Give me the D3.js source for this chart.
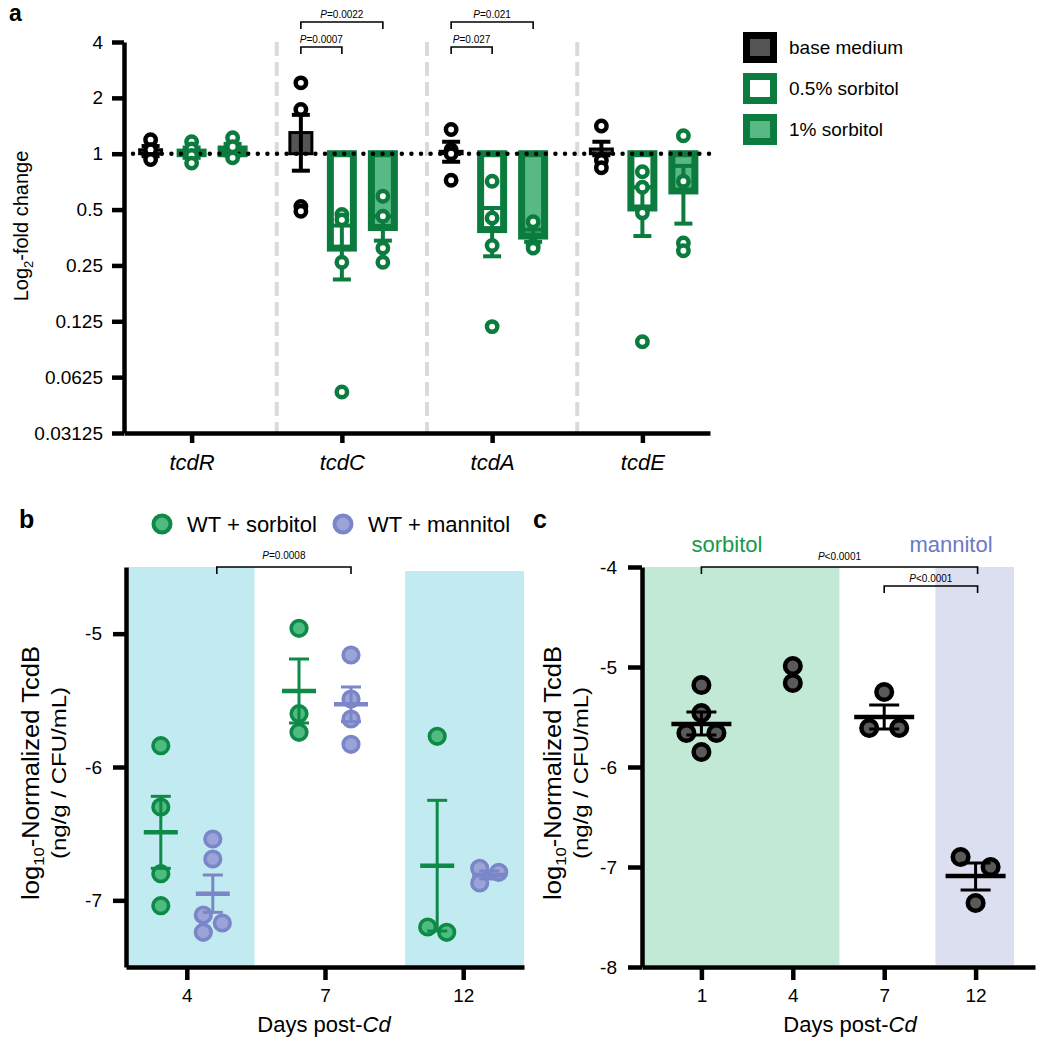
<!DOCTYPE html>
<html><head><meta charset="utf-8">
<script src="https://cdn.jsdelivr.net/npm/d3@7"></script>
<style>
body{margin:0;background:#fff;}
svg text{font-family:"Liberation Sans",Arial,Helvetica,sans-serif;fill:#000;}
</style></head><body>
<svg id="chart" width="1050" height="1044"></svg>
<script>
// ---------------- Panel a data ----------------
const genes = ["tcdR","tcdC","tcdA","tcdE"];
const media = ["base medium","0.5% sorbitol","1% sorbitol"];
const foldTicks = [4,2,1,0.5,0.25,0.125,0.0625,0.03125];
const foldTickLabels = ["4","2","1","0.5","0.25","0.125","0.0625","0.03125"];

const pointsTcdR = [[1.19,1.05,0.93],[1.16,1.06,0.98,0.89],[1.22,1.09,0.95]];
const pointsTcdC = [[2.41,1.73,0.52,0.49],[0.47,0.44,0.26,0.052],[0.59,0.46,0.31,0.26]];
const pointsTcdA = [[1.35,1.05,1.0,0.72],[0.71,0.45,0.32,0.117],[0.43,0.32,0.31]];
const pointsTcdE = [[1.41,0.92,0.84],[0.80,0.66,0.48,0.097],[1.25,0.71,0.33,0.30]];

const meanTcdR = [1.05,1.02,1.06];
const meanTcdC = [1.30,0.31,0.40];
const meanTcdA = [1.03,0.39,0.36];
const meanTcdE = [1.06,0.51,0.63];

const errTcdR = [[0.97,1.10],[0.95,1.08],[0.98,1.13]];
const errTcdC = [[0.81,1.62],[0.21,0.41],[0.34,0.46]];
const errTcdA = [[0.905,1.16],[0.28,0.51],[0.335,0.39]];
const errTcdE = [[0.98,1.16],[0.36,0.66],[0.42,0.86]];

const pGenesA = ["tcdC","tcdC","tcdA","tcdA"];
const pTargetsA = ["0.5% sorbitol","1% sorbitol","0.5% sorbitol","1% sorbitol"];
const pValuesA = ["=0.0007","=0.0022","=0.027","=0.021"];

// ---------------- Panel b data ----------------
const daysB = ["4","7","12"];
const sugarsB = ["WT + sorbitol","WT + mannitol"];
const sorbitolB = [[-5.84,-6.30,-6.80,-7.04],[-4.96,-5.60,-5.74],[-5.77,-7.20,-7.24]];
const mannitolB = [[-6.54,-6.69,-7.11,-7.17,-7.24],[-5.16,-5.49,-5.64,-5.83],[-6.76,-6.79,-6.87]];
const sorbitolBMean = [-6.49,-5.43,-6.74];
const mannitolBMean = [-6.95,-5.53,-6.81];
const sorbitolBErr = [[-6.76,-6.22],[-5.67,-5.19],[-7.23,-6.25]];
const mannitolBErr = [[-7.09,-6.81],[-5.66,-5.40],[-6.84,-6.78]];
const ticksB = [-5,-6,-7];
const tickLabelsB = ["-5","-6","-7"];
const pValueB = "=0.0008";

// ---------------- Panel c data ----------------
const daysC = ["1","4","7","12"];
const toxinC = [[-5.18,-5.46,-5.66,-5.66,-5.85],[-4.99,-5.16],[-5.25,-5.61,-5.61],[-6.90,-7.00,-7.36]];
const toxinCMean = [-5.57,null,-5.50,-7.09];
const toxinCErr = [[-5.68,-5.45],null,[-5.62,-5.38],[-7.23,-6.96]];
const ticksC = [-4,-5,-6,-7,-8];
const tickLabelsC = ["-4","-5","-6","-7","-8"];
const pFromC = ["1","7"];
const pValuesC = ["<0.0001","<0.0001"];

// ---------------- styles ----------------
const GREEN = "#0b7b3e", GREEN_LIGHT = "#58b985";
const FONT = '"Liberation Sans",Arial,Helvetica,sans-serif';
const svg = d3.select("#chart");

function styleAxis(g, fs, italic){
  g.select(".domain").attr("stroke","#000").attr("stroke-width",4.5);
  g.selectAll(".tick line").attr("stroke","#000").attr("stroke-width",4.5);
  g.selectAll(".tick text").attr("font-size",fs).attr("font-family",FONT).attr("fill","#000")
    .attr("font-style", italic ? "italic" : null);
}
function bracket(g, x1, x2, y, tick, rest, ty){
  g.append("path").attr("d",`M${x1},${y+tick}V${y}H${x2}V${y+tick}`)
    .attr("fill","none").attr("stroke","#000").attr("stroke-width",1.6);
  const t = g.append("text").attr("x",(x1+x2)/2).attr("y",ty).attr("text-anchor","middle").attr("font-size",10);
  t.append("tspan").attr("font-style","italic").text("P");
  t.append("tspan").text(rest);
}
function dodge(values, y, thr, s){
  const idx = values.map((v,i)=>i).sort((a,b)=>values[b]-values[a]);
  const off = new Array(values.length).fill(0);
  let cluster = [idx[0]];
  const flush = () => { if (cluster.length>1) cluster.forEach((k,j)=> off[k] = (j%2===0?-1:1)*s/2); };
  for (let j=1;j<idx.length;j++){
    if (Math.abs(y(values[idx[j]])-y(values[idx[j-1]])) < thr) cluster.push(idx[j]);
    else { flush(); cluster=[idx[j]]; }
  }
  flush();
  return off;
}
function toxinLabel(g, x1, x2, cy){
  const yl = g.append("text").attr("transform",`translate(${x1},${cy}) rotate(-90)`).attr("text-anchor","middle")
    .attr("font-size",23).attr("textLength",254).attr("lengthAdjust","spacingAndGlyphs");
  yl.append("tspan").text("log");
  yl.append("tspan").attr("font-size",15).attr("dy",5).text("10");
  yl.append("tspan").attr("dy",-5).text("-Normalized TcdB");
  g.append("text").attr("transform",`translate(${x2},${cy}) rotate(-90)`).attr("text-anchor","middle")
    .attr("font-size",20).attr("textLength",172).attr("lengthAdjust","spacingAndGlyphs").text("(ng/g / CFU/mL)");
}

// =============== Panel a ===============
{
  const g = svg.append("g");
  const xA = d3.scalePoint().domain(genes).range([124,710]).padding(0.45);
  const offA = d3.scalePoint().domain(media).range([-41,41]);
  const yA = d3.scaleLog().base(2).domain([0.03125,4]).range([433,42]);
  const stepA = xA.step();
  const pointsA = [pointsTcdR,pointsTcdC,pointsTcdA,pointsTcdE];
  const meansA = [meanTcdR,meanTcdC,meanTcdA,meanTcdE];
  const errsA = [errTcdR,errTcdC,errTcdA,errTcdE];
  const barStroke = ["#000",GREEN,GREEN], barFill = ["#555","#fff",GREEN_LIGHT];
  const barSW = [3,7,7], barW = [25,30,30];

  genes.slice(0,-1).forEach(gn=>{
    const sx = xA(gn)+stepA*0.5+10;
    g.append("line").attr("x1",sx).attr("x2",sx).attr("y1",yA(4)).attr("y2",yA(0.03125))
      .attr("stroke","#dadada").attr("stroke-width",4).attr("stroke-dasharray","14 6");
  });

  genes.forEach((gn,gi)=>media.forEach((m,mi)=>{
    const cx = xA(gn)+offA(m);
    const y1 = yA(1), y2 = yA(meansA[gi][mi]);
    const w = barW[mi]-barSW[mi];
    g.append("rect").attr("x",cx-w/2).attr("y",Math.min(y1,y2)).attr("width",w)
      .attr("height",Math.max(0.5,Math.abs(y2-y1)))
      .attr("fill",barFill[mi]).attr("stroke",barStroke[mi]).attr("stroke-width",barSW[mi]);
  }));

  g.append("line").attr("x1",133).attr("x2",718).attr("y1",yA(1)).attr("y2",yA(1))
    .attr("stroke","#000").attr("stroke-width",4.5).attr("stroke-linecap","round")
    .attr("stroke-dasharray","0 9.6");

  genes.forEach((gn,gi)=>media.forEach((m,mi)=>{
    const cx = xA(gn)+offA(m);
    const [lo,hi] = errsA[gi][mi];
    const col = barStroke[mi];
    g.append("line").attr("x1",cx).attr("x2",cx).attr("y1",yA(lo)).attr("y2",yA(hi))
      .attr("stroke",col).attr("stroke-width",4);
    [lo,hi].forEach(v=>g.append("line").attr("x1",cx-9).attr("x2",cx+9).attr("y1",yA(v)).attr("y2",yA(v))
      .attr("stroke",col).attr("stroke-width",4));
  }));

  genes.forEach((gn,gi)=>media.forEach((m,mi)=>{
    const cx = xA(gn)+offA(m);
    g.selectAll(null).data(pointsA[gi][mi]).enter().append("circle")
      .attr("cx",cx).attr("cy",d=>yA(d)).attr("r",5.2)
      .attr("fill","#fff").attr("stroke",barStroke[mi]).attr("stroke-width",4.5);
  }));

  const ay = g.append("g").attr("transform","translate(124,0)")
    .call(d3.axisLeft(yA).tickValues(foldTicks).tickFormat((d,i)=>foldTickLabels[i]).tickSize(12).tickPadding(9).tickSizeOuter(0));
  styleAxis(ay,19,false);
  const ax = g.append("g").attr("transform","translate(0,433)")
    .call(d3.axisBottom(xA).tickSize(10).tickPadding(11).tickSizeOuter(0));
  styleAxis(ax,22,true);

  const yl = g.append("text").attr("transform","translate(28,226) rotate(-90)").attr("text-anchor","middle").attr("font-size",20);
  yl.append("tspan").text("Log");
  yl.append("tspan").attr("font-size",13).attr("dy",5).text("2");
  yl.append("tspan").attr("dy",-5).text("-fold change");

  pGenesA.forEach((gn,i)=>{
    const lvl = media.indexOf(pTargetsA[i]);
    const x1 = xA(gn)+offA(media[0]), x2 = xA(gn)+offA(pTargetsA[i]);
    const by = lvl===1 ? 47 : 22;
    bracket(g, x1, x2, by, 7, pValuesA[i], by-4);
  });

  media.forEach((m,mi)=>{
    const cy = 47.5 + mi*41;
    g.append("rect").attr("x",746.5).attr("y",cy-12).attr("width",27).attr("height",24)
      .attr("fill",barFill[mi]).attr("stroke",barStroke[mi]).attr("stroke-width",7);
    g.append("text").attr("x",789).attr("y",cy+6.5).attr("font-size",19).text(m);
  });

  g.append("text").attr("x",9).attr("y",21).attr("font-size",23).attr("font-weight","bold").text("a");
}

// =============== Panel b ===============
{
  const g = svg.append("g");
  const xB = d3.scalePoint().domain(daysB).range([126,524]).padding(0.44);
  const offB = d3.scalePoint().domain(sugarsB).range([-26,26]);
  const yB = d3.scaleLinear().domain([-7.5,-4.5]).range([967,567]);
  const stepB = xB.step();
  const COL = [{s:"#0d8a47",f:"#4fbb80"},{s:"#7b86c8",f:"#9ba4d8"}];
  const ptsB = [sorbitolB, mannitolB], meanB = [sorbitolBMean, mannitolBMean], errB = [sorbitolBErr, mannitolBErr];

  g.append("rect").attr("x",128).attr("y",yB(-4.5)).attr("width",xB("4")+0.49*stepB-128)
    .attr("height",yB(-7.5)-yB(-4.5)).attr("fill","#c1ebf0");
  const b2x = xB("12")-0.42*stepB;
  g.append("rect").attr("x",b2x).attr("y",yB(-4.5)+4).attr("width",524-b2x)
    .attr("height",yB(-7.5)-yB(-4.5)-4).attr("fill","#c1ebf0");

  daysB.forEach((d,di)=>sugarsB.forEach((s,si)=>{
    const vals = ptsB[si][di];
    const off = dodge(vals, yB, 16, 19);
    const cx = xB(d)+offB(s);
    g.selectAll(null).data(vals).enter().append("circle")
      .attr("cx",(v,i)=>cx+off[i]).attr("cy",v=>yB(v)).attr("r",7.8)
      .attr("fill",COL[si].f).attr("stroke",COL[si].s).attr("stroke-width",3.6);
  }));
  daysB.forEach((d,di)=>sugarsB.forEach((s,si)=>{
    const cx = xB(d)+offB(s), c = COL[si].s;
    const [lo,hi] = errB[si][di];
    g.append("line").attr("x1",cx).attr("x2",cx).attr("y1",yB(lo)).attr("y2",yB(hi)).attr("stroke",c).attr("stroke-width",3);
    [lo,hi].forEach(v=>g.append("line").attr("x1",cx-10).attr("x2",cx+10).attr("y1",yB(v)).attr("y2",yB(v)).attr("stroke",c).attr("stroke-width",3));
    const m = meanB[si][di];
    g.append("line").attr("x1",cx-17).attr("x2",cx+17).attr("y1",yB(m)).attr("y2",yB(m)).attr("stroke",c).attr("stroke-width",4.5);
  }));

  const ay = g.append("g").attr("transform","translate(126,0)")
    .call(d3.axisLeft(yB).tickValues(ticksB).tickFormat((d,i)=>tickLabelsB[i]).tickSize(13).tickPadding(11).tickSizeOuter(0));
  styleAxis(ay,19,false);
  const ax = g.append("g").attr("transform","translate(0,967)")
    .call(d3.axisBottom(xB).tickSize(13).tickPadding(9).tickSizeOuter(0));
  styleAxis(ax,19,false);

  const xl = g.append("text").attr("x",324).attr("y",1032).attr("text-anchor","middle").attr("font-size",22);
  xl.append("tspan").text("Days post-");
  xl.append("tspan").attr("font-style","italic").text("Cd");

  toxinLabel(g, 39, 66, 773);

  sugarsB.forEach((s,si)=>{
    const lx = si===0 ? 162 : 343;
    g.append("circle").attr("cx",lx).attr("cy",524).attr("r",8.5).attr("fill",COL[si].f).attr("stroke",COL[si].s).attr("stroke-width",4);
    g.append("text").attr("x",lx+25).attr("y",532).attr("font-size",22).text(s);
  });

  const bx1 = xB("4")+offB(sugarsB[1])+4, bx2 = xB("7")+offB(sugarsB[1]);
  bracket(g, bx1, bx2, 567, 7, pValueB, 559);

  g.append("text").attr("x",19).attr("y",528).attr("font-size",25).attr("font-weight","bold").text("b");
}

// =============== Panel c ===============
{
  const g = svg.append("g");
  const xC = d3.scalePoint().domain(daysC).range([642,1035]).padding(0.65);
  const yC = d3.scaleLinear().domain([-8,-4]).range([967,567]);
  const stepC = xC.step();

  g.append("rect").attr("x",644).attr("y",yC(-4)).attr("width",xC("4")+0.51*stepC-644)
    .attr("height",yC(-8)-yC(-4)-2).attr("fill","#c2e9d5");
  const px = xC("12")-0.44*stepC;
  g.append("rect").attr("x",px).attr("y",yC(-4)).attr("width",0.86*stepC)
    .attr("height",yC(-8)-yC(-4)-2).attr("fill","#dcdff0");

  daysC.forEach((d,di)=>{
    const vals = toxinC[di];
    const off = dodge(vals, yC, 15, 30);
    g.selectAll(null).data(vals).enter().append("circle")
      .attr("cx",(v,i)=>xC(d)+off[i]).attr("cy",v=>yC(v)).attr("r",7.8)
      .attr("fill","#5a5a5a").attr("stroke","#000").attr("stroke-width",4.5);
  });
  daysC.forEach((d,di)=>{
    if (toxinCMean[di]===null) return;
    const cx = xC(d);
    const [lo,hi] = toxinCErr[di];
    g.append("line").attr("x1",cx).attr("x2",cx).attr("y1",yC(lo)).attr("y2",yC(hi)).attr("stroke","#000").attr("stroke-width",3);
    [lo,hi].forEach(v=>g.append("line").attr("x1",cx-15).attr("x2",cx+15).attr("y1",yC(v)).attr("y2",yC(v)).attr("stroke","#000").attr("stroke-width",3));
    const m = toxinCMean[di];
    g.append("line").attr("x1",cx-30).attr("x2",cx+30).attr("y1",yC(m)).attr("y2",yC(m)).attr("stroke","#000").attr("stroke-width",4.5);
  });

  const ay = g.append("g").attr("transform","translate(642,0)")
    .call(d3.axisLeft(yC).tickValues(ticksC).tickFormat((d,i)=>tickLabelsC[i]).tickSize(14).tickPadding(11).tickSizeOuter(0));
  styleAxis(ay,19,false);
  const ax = g.append("g").attr("transform","translate(0,967)")
    .call(d3.axisBottom(xC).tickSize(13).tickPadding(9).tickSizeOuter(0));
  styleAxis(ax,19,false);

  const xl = g.append("text").attr("x",850).attr("y",1032).attr("text-anchor","middle").attr("font-size",22);
  xl.append("tspan").text("Days post-");
  xl.append("tspan").attr("font-style","italic").text("Cd");

  toxinLabel(g, 561, 588, 773);

  g.append("text").attr("x",727).attr("y",552).attr("text-anchor","middle").attr("font-size",22).style("fill","#16994b").text("sorbitol");
  g.append("text").attr("x",951).attr("y",552).attr("text-anchor","middle").attr("font-size",22).style("fill","#6c79c5").text("mannitol");

  bracket(g, xC(pFromC[0]), xC("12")+2, 567, 7, pValuesC[0], 560);
  bracket(g, xC(pFromC[1]), xC("12")+2, 586, 7, pValuesC[1], 582);

  g.append("text").attr("x",533).attr("y",528).attr("font-size",25).attr("font-weight","bold").text("c");
}
</script>
</body></html>
